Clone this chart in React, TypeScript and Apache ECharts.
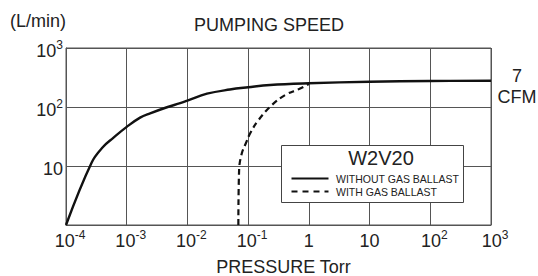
import React, { useEffect, useRef } from "react";
import * as echarts from "echarts";

const titleText = "PUMPING SPEED";
const yUnit = "(L/min)";
const xName = "PRESSURE Torr";
const legendTitle = "W2V20";
const seriesNames = ["WITHOUT GAS BALLAST", "WITH GAS BALLAST"];
const sideNote = "7\nCFM";

// Without gas ballast
const noBallastPressure = [1e-4, 2.65e-4, 4.1e-4, 6e-4, 1e-3, 1.66e-3, 2.43e-3, 4.6e-3, 7.6e-3, 1e-2, 2.1e-2, 5e-2, 1e-1, 2.3e-1, 1, 10, 100, 1000];
const noBallastSpeed = [1, 11.5, 21.2, 30, 46, 66, 78, 99, 116, 128, 168, 198, 216, 236, 252, 268, 276, 279];

// With gas ballast
const ballastPressure = [0.069, 0.071, 0.0787, 0.0917, 0.108, 0.148, 0.246, 0.408, 0.676, 1];
const ballastSpeed = [1, 8.6, 16.4, 24.3, 35.8, 60, 108, 160, 200, 245];

const FONT = "'Liberation Sans', Arial, Helvetica, sans-serif";
const TXT = "#222";

function fmtLog(v: number, isY: boolean): string {
  const e = Math.round(Math.log10(v));
  if (isY && e === 0) return "";
  if (e === 0) return "{b|1}";
  if (e === 1) return "{b|10}";
  return (isY ? "{b|10}" : "{bp|10}") + "{s|" + e + "}";
}

const rich = {
  b: { fontSize: 18, fontFamily: FONT, color: TXT, lineHeight: 24 },
  bp: { fontSize: 18, fontFamily: FONT, color: TXT, lineHeight: 24, padding: [0, 0, 0, 8] },
  s: { fontSize: 12, fontFamily: FONT, color: TXT, lineHeight: 11, verticalAlign: "top" },
};

export default function App() {
  const ref = useRef<HTMLDivElement>(null);
  useEffect(() => {
    if (!ref.current) return;
    const chart = echarts.init(ref.current, null, { renderer: "svg" });
    const solid = noBallastPressure.map((p, i) => [p, noBallastSpeed[i]]);
    const dashed = ballastPressure.map((p, i) => [p, ballastSpeed[i]]);
    chart.setOption({
      animation: false,
      backgroundColor: "#fff",
      title: {
        text: titleText,
        left: "center",
        top: 11,
        textStyle: { fontSize: 18, fontWeight: "normal", fontFamily: FONT, color: TXT },
      },
      grid: {
        left: 66,
        right: 47,
        top: 48,
        bottom: 51,
        show: true,
        borderColor: "#555",
        borderWidth: 1,
        outerBoundsMode: "none",
        containLabel: false,
      },
      xAxis: {
        type: "log",
        logBase: 10,
        min: 1e-4,
        max: 1e3,
        name: xName,
        nameLocation: "middle",
        nameGap: 33,
        nameTextStyle: { fontSize: 18, fontFamily: FONT, color: TXT, padding: [0, 0, 0, 10] },
        axisLine: { show: true, lineStyle: { color: "#555", width: 1 } },
        axisTick: { show: false },
        splitLine: { show: true, lineStyle: { color: "#555", width: 1 } },
        axisLabel: { margin: 4, formatter: (v: number) => fmtLog(v, false), rich, showMinLabel: true, showMaxLabel: true },
      },
      yAxis: {
        type: "log",
        logBase: 10,
        min: 1,
        max: 1e3,
        name: yUnit,
        nameLocation: "end",
        nameGap: 27,
        nameTextStyle: { fontSize: 18, fontFamily: FONT, color: TXT, align: "right", verticalAlign: "middle" },
        axisLine: { show: true, lineStyle: { color: "#555", width: 1 } },
        axisTick: { show: false },
        splitLine: { show: true, lineStyle: { color: "#555", width: 1 } },
        axisLabel: { margin: 3, padding: [5, 0, 0, 0], formatter: (v: number) => fmtLog(v, true), rich },
      },
      series: [
        {
          name: seriesNames[0],
          type: "line",
          data: solid,
          showSymbol: false,
          smooth: 0.4,
          lineStyle: { color: "#111", width: 2.4 },
        },
        {
          name: seriesNames[1],
          type: "line",
          data: dashed,
          showSymbol: false,
          smooth: 0.4,
          lineStyle: { color: "#111", width: 2.2, type: [6, 4] },
        },
      ],
      graphic: [
        {
          type: "text",
          x: 517,
          y: 65.5,
          style: { text: sideNote, fontSize: 18, fontFamily: FONT, fill: TXT, align: "center", lineHeight: 21 },
        },
        {
          type: "rect",
          shape: { x: 281.5, y: 145.5, width: 182, height: 57 },
          style: { fill: "#fff", stroke: "#444", lineWidth: 1 },
          z: 10,
        },
        {
          type: "text",
          x: 381,
          y: 158,
          style: { text: legendTitle, fontSize: 20, fontFamily: FONT, fill: TXT, align: "center", verticalAlign: "middle" },
          z: 11,
        },
        {
          type: "line",
          shape: { x1: 291.5, y1: 178.5, x2: 328.5, y2: 178.5 },
          style: { stroke: "#111", lineWidth: 2.2 },
          z: 11,
        },
        {
          type: "text",
          x: 336,
          y: 178.5,
          style: { text: seriesNames[0], fontSize: 10.5, fontFamily: FONT, fill: TXT, align: "left", verticalAlign: "middle" },
          z: 11,
        },
        {
          type: "line",
          shape: { x1: 291.5, y1: 191.5, x2: 328.5, y2: 191.5 },
          style: { stroke: "#111", lineWidth: 2.2, lineDash: [6, 5] },
          z: 11,
        },
        {
          type: "text",
          x: 336,
          y: 191.5,
          style: { text: seriesNames[1], fontSize: 10.5, fontFamily: FONT, fill: TXT, align: "left", verticalAlign: "middle" },
          z: 11,
        },
      ],
    });
    return () => chart.dispose();
  }, []);
  return <div ref={ref} style={{ width: 538, height: 276, position: "absolute", left: 0, top: 0 }} />;
}
